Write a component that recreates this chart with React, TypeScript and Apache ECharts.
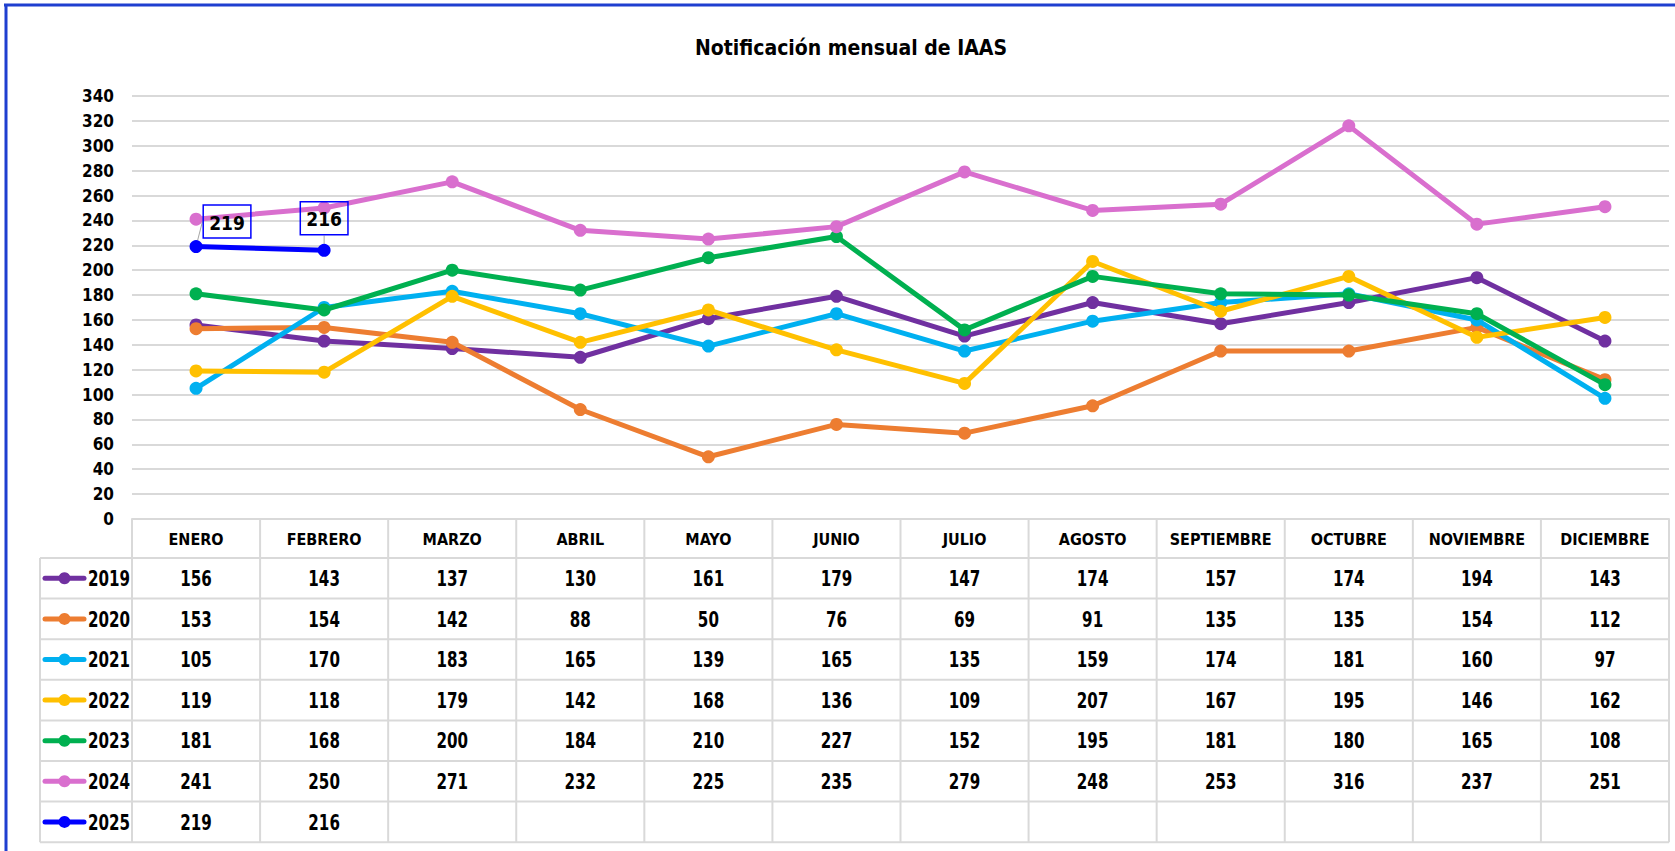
import React, { useEffect, useRef } from "react";
import * as echarts from "echarts";

const TITLE = "Notificación mensual de IAAS";
const MONTHS = ["ENERO", "FEBRERO", "MARZO", "ABRIL", "MAYO", "JUNIO", "JULIO", "AGOSTO", "SEPTIEMBRE", "OCTUBRE", "NOVIEMBRE", "DICIEMBRE"];
const YEARS = ["2019", "2020", "2021", "2022", "2023", "2024", "2025"];
const V2019 = [156, 143, 137, 130, 161, 179, 147, 174, 157, 174, 194, 143];
const V2020 = [153, 154, 142, 88, 50, 76, 69, 91, 135, 135, 154, 112];
const V2021 = [105, 170, 183, 165, 139, 165, 135, 159, 174, 181, 160, 97];
const V2022 = [119, 118, 179, 142, 168, 136, 109, 207, 167, 195, 146, 162];
const V2023 = [181, 168, 200, 184, 210, 227, 152, 195, 181, 180, 165, 108];
const V2024 = [241, 250, 271, 232, 225, 235, 279, 248, 253, 316, 237, 251];
const V2025 = [219, 216];
const VALUES = [V2019, V2020, V2021, V2022, V2023, V2024, V2025];
const COLORS = ["#7030A0", "#ED7D31", "#00B0F0", "#FFC000", "#00B050", "#D96FCE", "#0000FF"];
const Y_MIN = 0;
const Y_MAX = 340;
const Y_STEP = 20;

const FONT = "'Liberation Sans Narrow', 'DejaVu Sans Condensed', 'Open Sans', sans-serif";
const W = 1675;
const H = 851;
const GRID_LEFT = 132;
const GRID_RIGHT_X = 1669;
const GRID_TOP = 96;
const AXIS_Y = 519;
const HEADER_BOTTOM = 558;
const ROW_H = 40.6;
const LEG_LEFT = 40;
const BORDER = "#d9d9d9";
const SX = 0.8;

export default function App() {
  const ref = useRef<HTMLDivElement>(null);
  useEffect(() => {
    if (!ref.current) return;
    const chart = echarts.init(ref.current, null, { renderer: "svg" });
    const colW = (GRID_RIGHT_X - GRID_LEFT) / MONTHS.length;
    const tableBottom = HEADER_BOTTOM + ROW_H * YEARS.length;
    const g: any[] = [];
    g.push({ type: "line", shape: { x1: 4, y1: 5, x2: W, y2: 5 }, style: { stroke: "#1F3FD0", lineWidth: 3 } });
    g.push({ type: "line", shape: { x1: 6, y1: 4, x2: 6, y2: H }, style: { stroke: "#1F3FD0", lineWidth: 3 } });
    for (let r = 0; r <= YEARS.length; r++) {
      const y = HEADER_BOTTOM + r * ROW_H;
      g.push({ type: "line", shape: { x1: LEG_LEFT, y1: y, x2: GRID_RIGHT_X, y2: y }, style: { stroke: BORDER, lineWidth: 2 } });
    }
    g.push({ type: "line", shape: { x1: LEG_LEFT, y1: HEADER_BOTTOM, x2: LEG_LEFT, y2: tableBottom }, style: { stroke: BORDER, lineWidth: 2 } });
    for (let c = 0; c <= MONTHS.length; c++) {
      const x = GRID_LEFT + c * colW;
      g.push({ type: "line", shape: { x1: x, y1: AXIS_Y, x2: x, y2: tableBottom }, style: { stroke: BORDER, lineWidth: 2 } });
    }
    YEARS.forEach((yr, r) => {
      const cy = HEADER_BOTTOM + r * ROW_H + ROW_H / 2;
      g.push({ type: "line", shape: { x1: 45, y1: cy, x2: 84, y2: cy }, style: { stroke: COLORS[r], lineWidth: 5, lineCap: "round" } });
      g.push({ type: "circle", shape: { cx: 64.5, cy, r: 6 }, style: { fill: COLORS[r] } });
      g.push({
        type: "text", x: 88, y: cy, scaleX: SX,
        style: { text: yr, fontSize: 21, fontWeight: "bold", fontFamily: FONT, fill: "#000", align: "left", verticalAlign: "middle" },
      });
      VALUES[r].forEach((v, c) => {
        g.push({
          type: "text", x: GRID_LEFT + c * colW + colW / 2, y: cy, scaleX: SX,
          style: { text: String(v), fontSize: 21, fontWeight: "bold", fontFamily: FONT, fill: "#000", align: "center", verticalAlign: "middle" },
        });
      });
    });

    const series = YEARS.map((yr, i) => {
      const s: any = {
        name: yr,
        type: "line",
        data: VALUES[i],
        symbol: "circle",
        symbolSize: 13,
        lineStyle: { width: 5, color: COLORS[i] },
        itemStyle: { color: COLORS[i] },
        z: 2 + i,
      };
      if (yr === "2025") {
        s.label = {
          show: true, position: "top", distance: 9,
          fontSize: 19, fontWeight: "bold", fontFamily: FONT, color: "#000",
          borderColor: "#0000FF", borderWidth: 1.5, padding: [8, 6, 6, 6],
        };
        s.labelLine = { show: true, lineStyle: { color: "#a6a6a6", width: 1 } };
        s.labelLayout = (p: any) => (p.dataIndex === 0 ? { dx: 31, dy: 7 } : {});
      }
      return s;
    });

    chart.setOption({
      animation: false,
      backgroundColor: "#fff",
      title: {
        text: TITLE, left: 846, top: 32, textAlign: "center",
        textStyle: { fontSize: 21, fontWeight: "bold", fontFamily: FONT, color: "#000" },
      },
      grid: { left: GRID_LEFT, right: W - GRID_RIGHT_X, top: GRID_TOP, bottom: H - AXIS_Y },
      xAxis: {
        type: "category", data: MONTHS, boundaryGap: true,
        axisLine: { lineStyle: { color: BORDER, width: 2 } },
        axisTick: { show: false },
        axisLabel: { fontSize: 16, fontWeight: "bold", fontFamily: FONT, color: "#000", margin: 12, interval: 0 },
      },
      yAxis: {
        type: "value", min: Y_MIN, max: Y_MAX, interval: Y_STEP,
        axisLine: { show: false }, axisTick: { show: false },
        axisLabel: { fontSize: 17, fontWeight: "bold", fontFamily: FONT, color: "#000", margin: 18 },
        splitLine: { lineStyle: { color: BORDER, width: 2 } },
      },
      series,
      graphic: g,
    });
    return () => chart.dispose();
  }, []);
  return <div ref={ref} style={{ position: "fixed", left: 0, top: 0, width: W, height: H }} />;
}
